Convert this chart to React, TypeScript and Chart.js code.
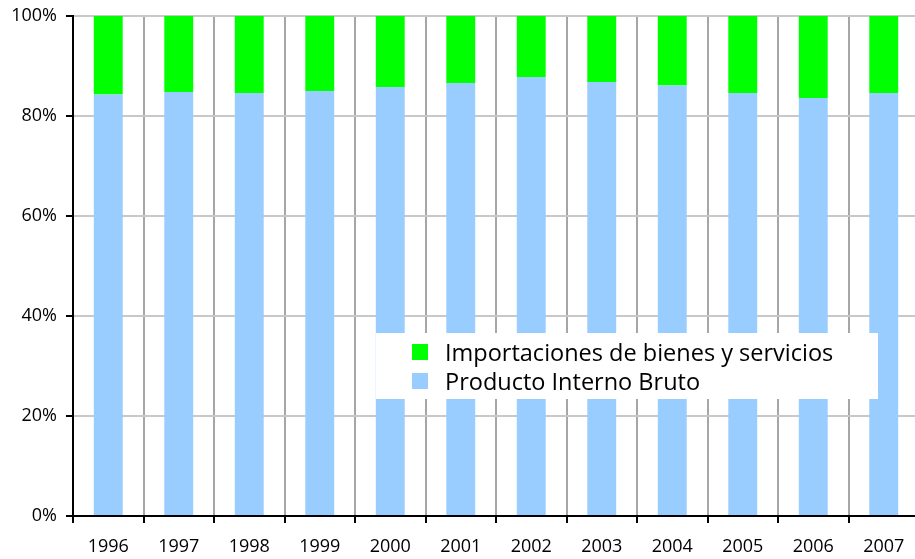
import React, { useEffect, useRef } from "react";
import { Chart, registerables } from "chart.js";

Chart.register(...registerables);

const years = ["1996", "1997", "1998", "1999", "2000", "2001", "2002", "2003", "2004", "2005", "2006", "2007"];
const pib = [84.3, 84.8, 84.6, 85.0, 85.8, 86.6, 87.8, 86.8, 86.1, 84.6, 83.6, 84.6];
const importaciones = [15.7, 15.2, 15.4, 15.0, 14.2, 13.4, 12.2, 13.2, 13.9, 15.4, 16.4, 15.4];
const yTicks = [0, 20, 40, 60, 80, 100];

const FONT = "'Open Sans', 'DejaVu Sans', sans-serif";

const legendPlugin = {
  id: "insideLegend",
  afterDraw(chart: any) {
    const ctx = chart.ctx;
    const x0 = 376, y0 = 333, w = 502, h = 66;
    ctx.save();
    ctx.fillStyle = "#ffffff";
    ctx.fillRect(x0, y0, w, h);
    const items = [...chart.data.datasets].reverse();
    ctx.font = `23.5px ${FONT}`;
    ctx.textBaseline = "alphabetic";
    items.forEach((ds: any, i: number) => {
      const base = 361 + i * 29;
      ctx.fillStyle = ds.backgroundColor;
      ctx.fillRect(412, base - 17, 16, 16);
      ctx.fillStyle = "#000";
      ctx.fillText(ds.label, 445, base);
    });
    ctx.restore();
  },
};

export default function App() {
  const ref = useRef<HTMLCanvasElement>(null);
  useEffect(() => {
    document.body.style.margin = "0";
    document.documentElement.style.overflow = "hidden";
    const chart = new Chart(ref.current!, {
      type: "bar",
      data: {
        labels: years,
        datasets: [
          { label: "Producto Interno Bruto", data: pib, backgroundColor: "#99ccff", barPercentage: 0.41, categoryPercentage: 1 },
          { label: "Importaciones de bienes y servicios", data: importaciones, backgroundColor: "#00ff00", barPercentage: 0.41, categoryPercentage: 1 },
        ],
      },
      options: {
        responsive: false,
        animation: false,
        layout: { padding: { top: 16, left: 0, right: 0, bottom: 0 } },
        plugins: { legend: { display: false }, tooltip: { enabled: false } },
        scales: {
          x: {
            stacked: true,
            offset: true,
            grid: { offset: true, color: "#a6a6a6", lineWidth: 2, tickColor: "#000", tickLength: 7, drawTicks: true },
            border: { color: "#000", width: 2 },
            ticks: { color: "#000", font: { family: FONT, size: 18 }, padding: 13, maxRotation: 0, autoSkip: false },
            afterFit(scale: any) { scale.height = 43; scale.paddingLeft = 0; scale.paddingRight = 0; },
          },
          y: {
            stacked: true,
            min: 0,
            max: 100,
            afterBuildTicks(scale: any) { scale.ticks = yTicks.map((v) => ({ value: v })); },
            grid: { color: "#c8c8c8", lineWidth: 2, tickColor: "#000", tickLength: 7 },
            border: { color: "#000", width: 2 },
            ticks: { color: "#000", font: { family: FONT, size: 18 }, padding: 9, callback: (v: any) => v + "%" },
            afterFit(scale: any) { scale.width = 73; scale.paddingTop = 0; scale.paddingBottom = 0; },
          },
        },
      },
      plugins: [legendPlugin],
    });
    return () => chart.destroy();
  }, []);
  return (
    <div style={{ width: 919, height: 559 }}>
      <canvas ref={ref} width={919} height={559} />
    </div>
  );
}
